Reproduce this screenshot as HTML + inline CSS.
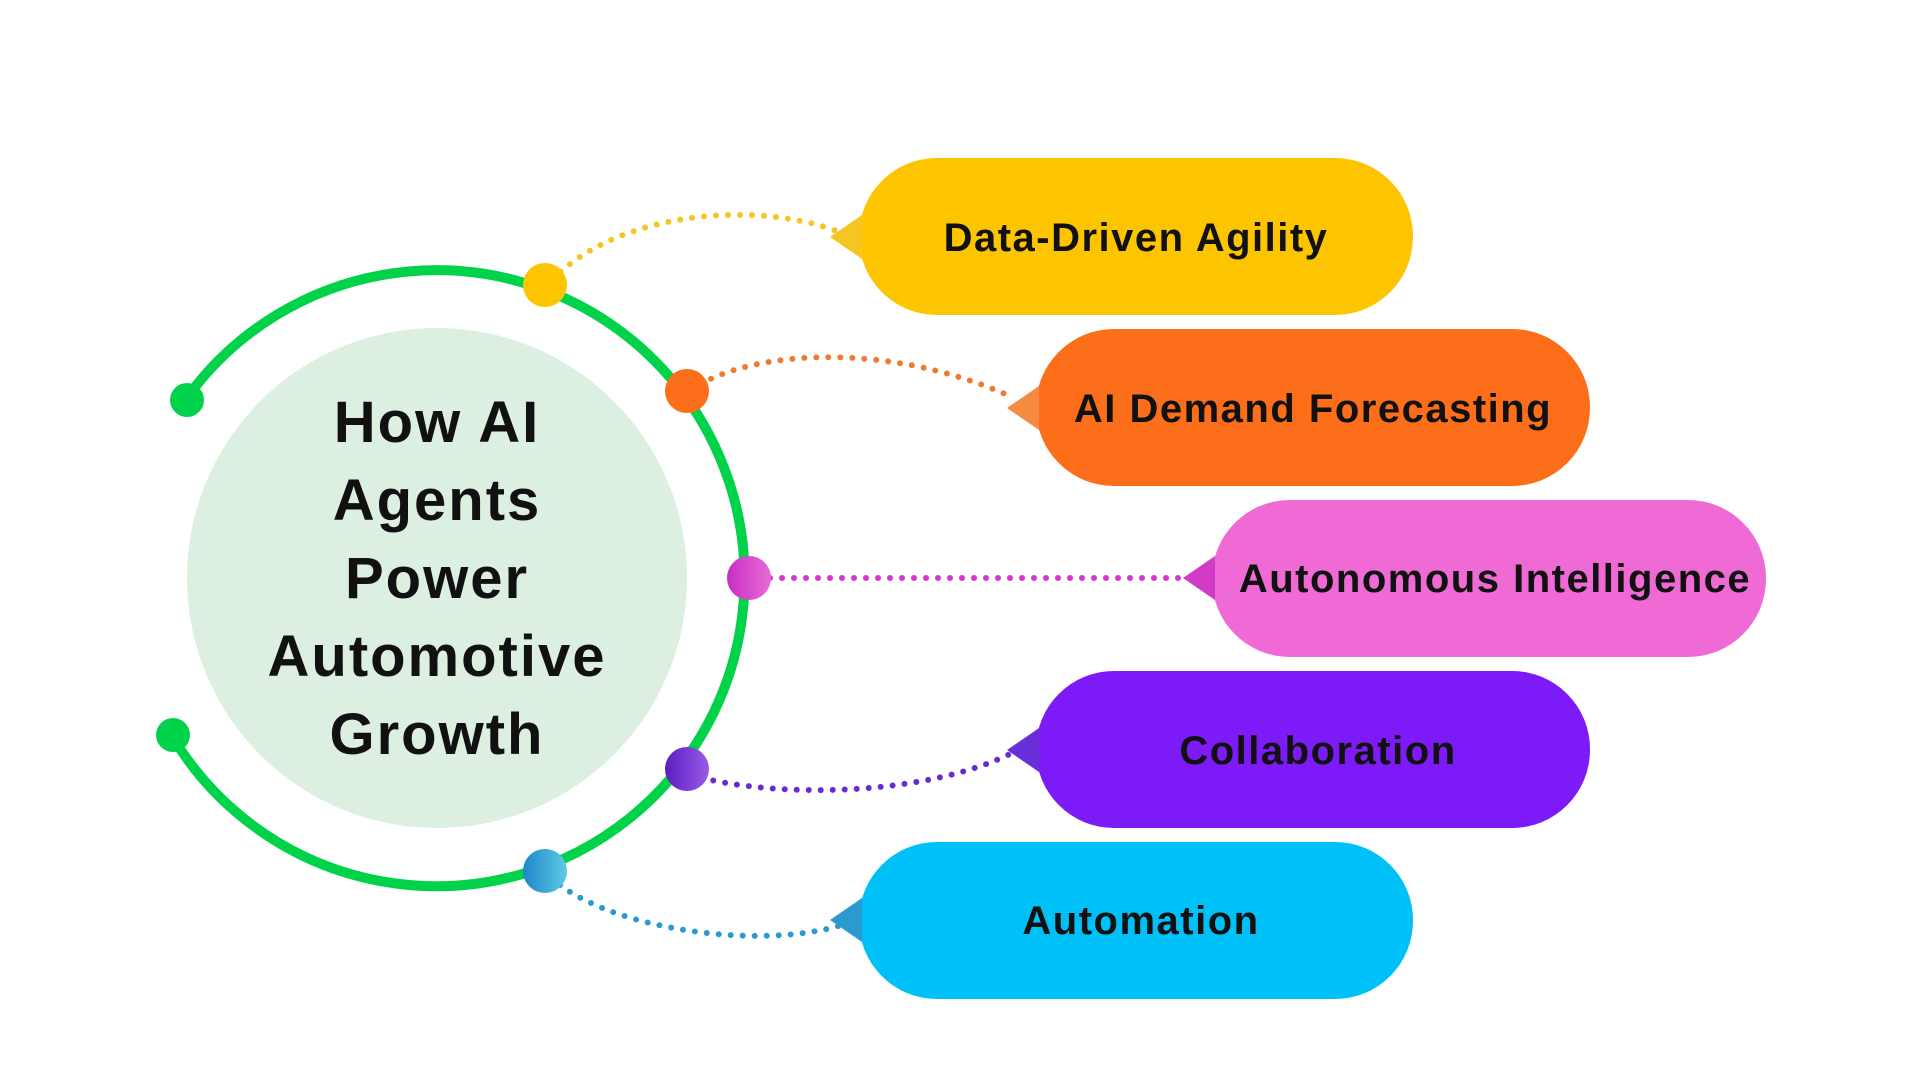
<!DOCTYPE html>
<html><head><meta charset="utf-8"><style>
html,body{margin:0;padding:0;background:#fff;width:1920px;height:1080px;overflow:hidden}
svg{display:block}
text{font-family:"Liberation Sans",sans-serif;font-weight:bold;fill:#111}
</style></head><body>
<svg width="1920" height="1080" viewBox="0 0 1920 1080">
<defs>
<linearGradient id="gb" x1="0" x2="1"><stop offset="0" stop-color="#1f86c9"/><stop offset="1" stop-color="#5ccbe6"/></linearGradient>
<linearGradient id="gp" x1="0" x2="1"><stop offset="0" stop-color="#5a1fc0"/><stop offset="1" stop-color="#9a5ae8"/></linearGradient>
<linearGradient id="gm" x1="0" x2="1"><stop offset="0" stop-color="#c82fc0"/><stop offset="1" stop-color="#e86ad8"/></linearGradient>
</defs>
<circle cx="437" cy="578" r="250" fill="#dcefe0"/>
<path d="M 186 399 A 308 308 0 1 1 172 736" fill="none" stroke="#00d34a" stroke-width="10" stroke-linecap="round"/>
<circle cx="187" cy="400" r="17" fill="#00d34a"/>
<circle cx="173" cy="735" r="17" fill="#00d34a"/>
<g fill="none" stroke-width="6" stroke-linecap="round" stroke-dasharray="0 12">
<path d="M552 280 C620 210 760 200 842 233" stroke="#f5c623"/>
<path d="M690 390 C760 345 900 345 1014 398" stroke="#f07a30"/>
<path d="M770 578 L1189 578" stroke="#d23ac8"/>
<path d="M690 775 C780 800 930 795 1014 752" stroke="#6a2ad0"/>
<path d="M560 885 C620 930 760 950 842 925" stroke="#2a9ad0"/>
</g>
<circle cx="545" cy="285" r="22" fill="#fdc500"/>
<circle cx="687" cy="391" r="22" fill="#fd6e1a"/>
<circle cx="749" cy="578" r="22" fill="url(#gm)"/>
<circle cx="687" cy="769" r="22" fill="url(#gp)"/>
<circle cx="545" cy="871" r="22" fill="url(#gb)"/>
<g font-size="40" text-anchor="middle" letter-spacing="1.5">
<rect x="859" y="158" width="554" height="157" rx="78" fill="#fdc500"/>
<polygon points="862,215 830,237 862,259" fill="#f5c623"/>
<text x="1136" y="251">Data-Driven Agility</text>
<rect x="1036" y="329" width="554" height="157" rx="78" fill="#fd6e1a"/>
<polygon points="1039,386 1007,408 1039,430" fill="#f58a40"/>
<text x="1313" y="422">AI Demand Forecasting</text>
<rect x="1212" y="500" width="554" height="157" rx="78" fill="#f06ad6"/>
<polygon points="1215,556 1183,578 1215,600" fill="#d23ac8"/>
<text x="1495" y="592">Autonomous Intelligence</text>
<rect x="1036" y="671" width="554" height="157" rx="78" fill="#7d1af8"/>
<polygon points="1039,728 1007,750 1039,772" fill="#6a30d8"/>
<text x="1318" y="764">Collaboration</text>
<rect x="859" y="842" width="554" height="157" rx="78" fill="#00c0f8"/>
<polygon points="862,898 830,920 862,942" fill="#2a9ad0"/>
<text x="1141" y="934">Automation</text>
</g>
<g font-size="58" text-anchor="middle" letter-spacing="2">
<text x="437" y="442">How AI</text>
<text x="437" y="520">Agents</text>
<text x="437" y="598">Power</text>
<text x="437" y="676">Automotive</text>
<text x="437" y="754">Growth</text>
</g>
</svg>
</body></html>
